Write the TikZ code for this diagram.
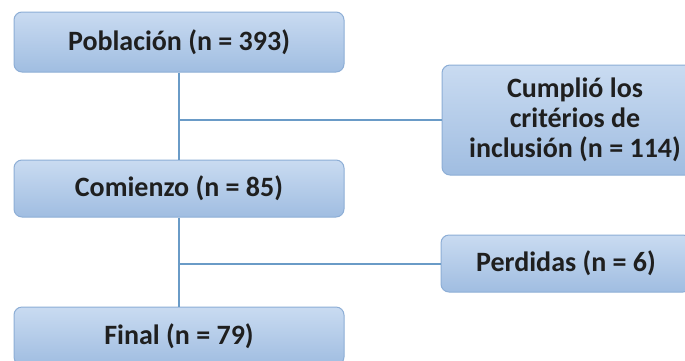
\documentclass[tikz,border=0pt]{standalone}
\usepackage{fontspec}
\setmainfont{Carlito}
\usepackage{tikz}

\definecolor{cajaarriba}{HTML}{C9DBF1}
\definecolor{cajaabajo}{HTML}{A0BDE1}
\definecolor{borde}{HTML}{8DAED6}
\definecolor{linea}{HTML}{6A9BC7}
\tikzset{
  caja/.style={draw=borde, line width=1pt, rounded corners=8pt,
    top color=cajaarriba, bottom color=cajaabajo, text=black!88,
    font=\fontsize{28}{30}\selectfont\bfseries, inner sep=0pt, align=center},
  enlace/.style={draw=linea, line width=2pt}
}

\begin{document}
\begin{tikzpicture}[x=1pt,y=-1pt]
			\clip (0,0) rectangle (685,360);
			\fill[white] (0,0) rectangle (685,360);

			\node[caja, minimum width=330pt, minimum height=60pt] (pob) at (179,42) {Población (n = 393)};
			\node[caja, minimum width=330pt, minimum height=57pt] (com) at (179,188.5) {Comienzo (n = 85)};
			\node[caja, minimum width=330pt, minimum height=58pt] (fin) at (179,336) {Final (n = 79)};
			\node[caja, minimum width=266pt, minimum height=110pt] (cri) at (575,120) {Cumplió los\\critérios de\\inclusión (n = 114)};
			\node[caja, minimum width=250pt, minimum height=57pt] (per) at (566,263.5) {Perdidas (n = 6)};

			\draw[enlace] (pob.south) -- (com.north);
			\draw[enlace] (pob.south |- cri.west) -- (cri.west);
			\draw[enlace] (com.south) -- (fin.north);
			\draw[enlace] (com.south |- per.west) -- (per.west);
		\end{tikzpicture}
\end{document}
